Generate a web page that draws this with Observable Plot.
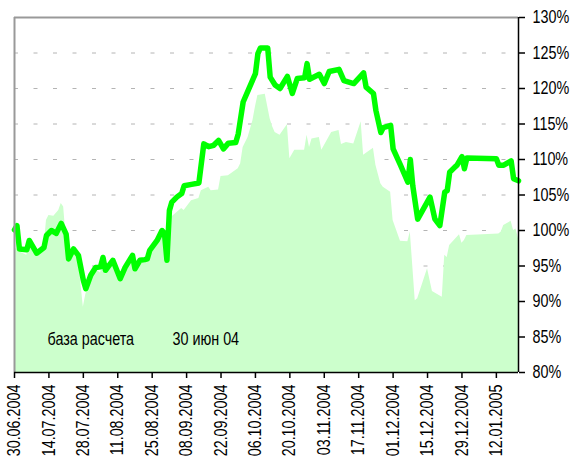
<!DOCTYPE html>
<html>
<head>
<meta charset="utf-8">
<script src="https://cdn.jsdelivr.net/npm/d3@7"></script>
<script src="https://cdn.jsdelivr.net/npm/@observablehq/plot@0.6"></script>
<style>
  html, body { margin: 0; padding: 0; background: #fff; }
</style>
</head>
<body>
<div id="chart"></div>
<script>
const lineDates = ["2004-06-30","2004-07-01","2004-07-02","2004-07-05","2004-07-06","2004-07-09","2004-07-12","2004-07-13","2004-07-15","2004-07-17","2004-07-19","2004-07-21","2004-07-22","2004-07-24","2004-07-26","2004-07-28","2004-07-29","2004-07-31","2004-08-02","2004-08-04","2004-08-05","2004-08-06","2004-08-09","2004-08-12","2004-08-14","2004-08-17","2004-08-18","2004-08-20","2004-08-22","2004-08-23","2004-08-24","2004-08-27","2004-08-29","2004-08-30","2004-08-31","2004-09-01","2004-09-02","2004-09-04","2004-09-06","2004-09-07","2004-09-10","2004-09-13","2004-09-15","2004-09-17","2004-09-19","2004-09-21","2004-09-23","2004-09-25","2004-09-28","2004-09-29","2004-10-01","2004-10-03","2004-10-06","2004-10-07","2004-10-08","2004-10-11","2004-10-12","2004-10-14","2004-10-16","2004-10-19","2004-10-21","2004-10-23","2004-10-26","2004-10-27","2004-10-28","2004-11-01","2004-11-03","2004-11-05","2004-11-09","2004-11-11","2004-11-15","2004-11-19","2004-11-20","2004-11-23","2004-11-24","2004-11-26","2004-11-27","2004-11-30","2004-12-01","2004-12-04","2004-12-07","2004-12-08","2004-12-09","2004-12-11","2004-12-16","2004-12-18","2004-12-20","2004-12-22","2004-12-23","2004-12-24","2004-12-26","2004-12-27","2004-12-29","2004-12-30","2004-12-31","2005-01-12","2005-01-13","2005-01-15","2005-01-18","2005-01-19","2005-01-21"];
const lineValues = [100.1,100.7,97.4,97.3,98.6,96.8,97.6,99.3,100.0,99.6,101.0,99.5,96.0,97.4,96.5,93.0,91.8,93.7,94.8,94.9,96.2,94.4,95.8,93.2,94.8,96.5,94.6,95.8,95.9,96.0,97.2,98.6,100.0,99.6,95.8,102.8,104.0,104.7,105.2,106.3,106.5,106.7,112.2,111.8,112.0,112.7,111.5,112.3,112.4,113.6,118.1,119.7,122.1,124.9,125.7,125.7,121.6,120.5,120.0,121.7,119.3,121.4,121.5,123.5,121.3,122.0,120.7,122.4,122.7,121.1,120.7,122.2,120.2,119.3,116.9,113.8,114.5,114.8,111.5,109.2,106.8,110.0,106.3,101.6,104.7,101.6,100.7,105.4,105.6,108.2,108.9,109.2,110.4,108.7,110.2,110.1,109.2,109.2,109.8,107.3,107.0];

const areaDates = ["2004-06-30","2004-07-02","2004-07-05","2004-07-06","2004-07-09","2004-07-12","2004-07-13","2004-07-14","2004-07-16","2004-07-18","2004-07-19","2004-07-20","2004-07-21","2004-07-22","2004-07-24","2004-07-26","2004-07-28","2004-07-29","2004-07-31","2004-08-02","2004-08-04","2004-08-05","2004-08-06","2004-08-09","2004-08-12","2004-08-14","2004-08-17","2004-08-18","2004-08-20","2004-08-23","2004-08-24","2004-08-27","2004-08-29","2004-08-31","2004-09-01","2004-09-02","2004-09-06","2004-09-07","2004-09-10","2004-09-13","2004-09-14","2004-09-17","2004-09-18","2004-09-21","2004-09-22","2004-09-25","2004-09-29","2004-09-30","2004-10-01","2004-10-03","2004-10-05","2004-10-06","2004-10-07","2004-10-10","2004-10-12","2004-10-13","2004-10-14","2004-10-16","2004-10-19","2004-10-20","2004-10-22","2004-10-26","2004-10-27","2004-10-28","2004-10-29","2004-11-01","2004-11-02","2004-11-06","2004-11-09","2004-11-10","2004-11-12","2004-11-15","2004-11-18","2004-11-19","2004-11-23","2004-11-24","2004-11-26","2004-11-27","2004-11-30","2004-12-01","2004-12-04","2004-12-07","2004-12-08","2004-12-10","2004-12-11","2004-12-15","2004-12-17","2004-12-21","2004-12-22","2004-12-23","2004-12-24","2004-12-28","2004-12-29","2004-12-30","2004-12-31","2005-01-13","2005-01-14","2005-01-15","2005-01-18","2005-01-19","2005-01-20","2005-01-21"];
const areaValues = [97.6,97.0,96.5,98.0,96.5,97.5,101.4,102.1,102.0,102.8,103.8,103.3,99.0,96.0,97.0,96.0,89.2,91.0,93.0,94.5,94.0,95.5,93.8,95.5,93.5,94.5,96.0,94.5,95.5,95.8,96.8,98.2,99.5,99.5,101.2,101.9,103.1,102.8,104.2,104.5,105.6,106.1,105.6,105.7,107.6,107.7,108.7,109.4,111.7,113.1,115.5,117.4,119.0,119.2,115.7,114.6,113.8,113.4,114.9,110.1,111.3,111.3,113.4,111.7,112.9,113.1,111.3,113.8,114.1,112.1,112.4,112.2,115.3,110.6,111.6,109.2,106.6,106.1,105.4,101.4,98.5,98.4,99.8,90.1,90.4,94.6,91.4,90.6,96.5,96.2,97.9,99.4,98.2,98.6,99.3,99.5,99.8,100.7,101.3,100.0,100.2,98.8];

const yTicks = [80,85,90,95,100,105,110,115,120,125,130];
const gridValues = [85,90,95,100,105,110,115,120,125];
const xTickLabels = ["30.06.2004","14.07.2004","28.07.2004","11.08.2004","25.08.2004","08.09.2004","22.09.2004","06.10.2004","20.10.2004","03.11.2004","17.11.2004","01.12.2004","15.12.2004","29.12.2004","12.01.2005"];
const xDomain = ["2004-06-30","2005-01-21"];
const noteLabel = "база расчета";
const noteDate = "30 июн 04";

const parseDMY = d3.utcParse("%d.%m.%Y");
const fmtDMY = d3.utcFormat("%d.%m.%Y");
const lineData = lineDates.map((d, i) => ({date: new Date(d), v: lineValues[i]}));
const areaData = areaDates.map((d, i) => ({date: new Date(d), v: areaValues[i]}));
const xTicks = xTickLabels.map(parseDMY);
const xStart = new Date(xDomain[0]), xEnd = new Date(xDomain[1]);

const font = "'Liberation Sans', Arial, sans-serif";

const chart = Plot.plot({
  width: 571,
  height: 459,
  marginLeft: 14,
  marginRight: 53,
  marginTop: 17,
  marginBottom: 87,
  style: {fontFamily: font, fontSize: "17.5px", color: "#000", background: "#fff"},
  x: {type: "utc", domain: [xStart, xEnd]},
  y: {domain: [80, 130]},
  marks: [
    Plot.ruleY(gridValues, {stroke: "#b4b4b4", strokeWidth: 1, strokeDasharray: "4,15.5"}),
    Plot.areaY(areaData, {x: "date", y1: 80, y2: "v", fill: "#ccffcc", curve: "linear"}),
    Plot.line(lineData, {x: "date", y: "v", stroke: "#00ff00", strokeWidth: 5.5, strokeLinejoin: "round", strokeLinecap: "round"}),
    Plot.ruleY([130], {stroke: "#999", strokeWidth: 2}),
    Plot.ruleX([xStart], {stroke: "#999", strokeWidth: 2}),
    Plot.ruleX([xEnd], {stroke: "#000", strokeWidth: 1.5}),
    Plot.ruleY([80], {stroke: "#000", strokeWidth: 1.5}),
    Plot.axisY(yTicks, {anchor: "right", tickSize: 6, tickPadding: 8, tickFormat: d => d + "%", label: null, stroke: "#000", strokeWidth: 1.5, fontSize: 17.5}),
    Plot.axisX(xTicks, {anchor: "bottom", tickSize: 6, tickPadding: 6, tickRotate: -90, tickFormat: fmtDMY, label: null, stroke: "#000", strokeWidth: 1.5, fontSize: 17.5}),
    Plot.text([noteLabel], {frameAnchor: "bottom-left", dx: 33, dy: -28, textAnchor: "start", fontSize: 17.5, fill: "#000"}),
    Plot.text([noteDate], {frameAnchor: "bottom-left", dx: 158, dy: -28, textAnchor: "start", fontSize: 17.5, fill: "#000"})
  ]
});
document.getElementById("chart").appendChild(chart);

// Narrow the glyphs horizontally (the reference uses a condensed face).
d3.select(chart).selectAll("text").each(function () {
  const target = this.tagName === "text" && this.querySelector("tspan") ? null : this;
  const el = target || this;
  const len = el.getComputedTextLength();
  if (len > 0) {
    el.setAttribute("textLength", (len * 0.82).toFixed(2));
    el.setAttribute("lengthAdjust", "spacingAndGlyphs");
  }
});
</script>
</body>
</html>
